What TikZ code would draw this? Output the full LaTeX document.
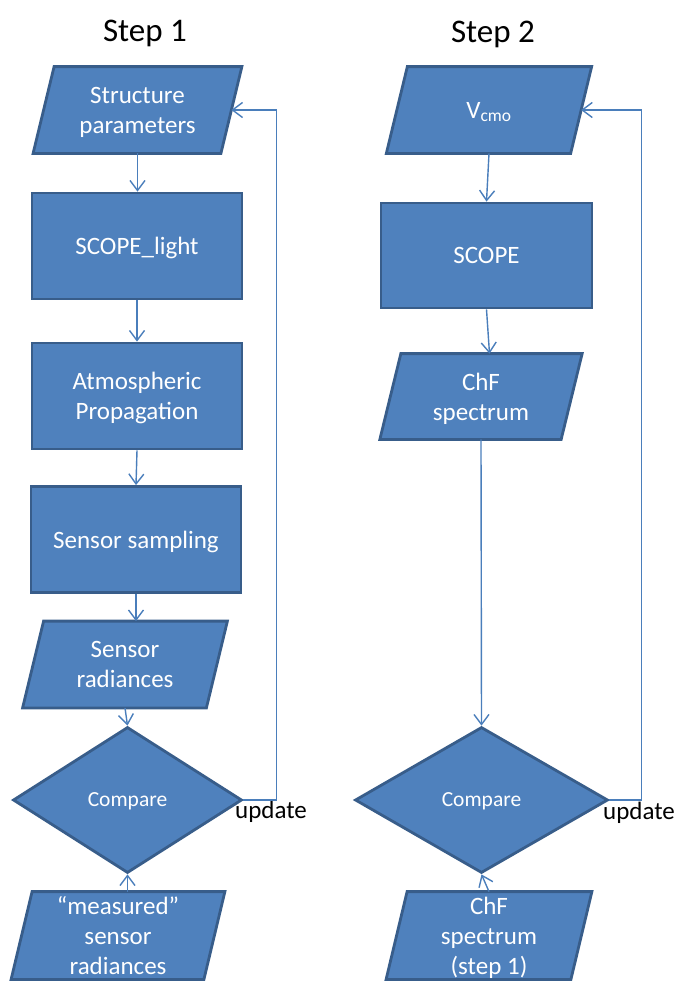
\documentclass[tikz,border=0pt]{standalone}
\usepackage{fontspec}
\setmainfont{Carlito}
\usetikzlibrary{shapes.geometric,arrows.meta,backgrounds}
\definecolor{shapefill}{HTML}{4F81BD}
\definecolor{shapeedge}{HTML}{385D8A}
\definecolor{linkblue}{HTML}{4A7EBB}
\newcommand{\boxtextfont}{\fontsize{25bp}{30bp}\selectfont}
\newcommand{\decisionfont}{\fontsize{21.5bp}{26bp}\selectfont}
\newcommand{\titlefont}{\fontsize{33bp}{40bp}\selectfont}

\begin{document}
\begin{tikzpicture}[x=1bp, y=-1bp,
  shapebase/.style={fill=shapefill, draw=shapeedge, line width=2.8bp,
    text=white, font=\boxtextfont, align=center, inner sep=0pt, text depth=0pt},
  procbox/.style={shapebase, rectangle, minimum width=210bp, minimum height=106bp},
  iobox/.style={text=white, font=\boxtextfont, align=center, inner sep=0pt,
    text depth=0pt, outer sep=1.4bp, minimum height=84bp},
  ioframe/.style={fill=shapefill, draw=shapeedge, line width=2.8bp},
  decision/.style={shapebase, diamond, font=\decisionfont},
  flowarrow/.style={draw=linkblue, line width=1.4bp,
    -{Straight Barb[length=10bp,width=15bp]}},
  steptitle/.style={font=\titlefont, anchor=base},
  updatetag/.style={font=\boxtextfont, anchor=base west, inner sep=0pt}
]
\useasboundingbox (0,0) rectangle (677,981);

% column titles
\node[steptitle] (t1) at (145,41) {Step 1};
\node[steptitle] (t2) at (493,42) {Step 2};

% Step 1 chain
\node[iobox, minimum width=185bp] (sp) at (137.5,110) {Structure\\parameters};
\node[procbox] (sl) at (137,246) {SCOPE\_light};
\node[procbox] (ap) at (137,396) {Atmospheric\\Propagation};
\node[procbox] (ss) at (136,539.5) {Sensor sampling};
\node[iobox, minimum width=181bp] (sr) at (125,664.5) {Sensor\\radiances};
\node[decision, minimum width=229bp, minimum height=146bp] (c1) at (127.5,800) {Compare};
\node[iobox, minimum width=190bp, minimum height=85bp] (ms) at (118,935.5) {“measured”\\sensor\\radiances};
\node[updatetag] (u1) at (235,818) {update};

% Step 2 chain
\node[iobox, minimum width=181.5bp] (vc) at (489,110) {V\textsubscript{cmo}};
\node[procbox, minimum width=211bp, minimum height=105bp] (sc) at (486.5,255.5) {SCOPE};
\node[iobox, minimum width=178.5bp, minimum height=83bp] (chf) at (481,396.5) {ChF\\spectrum};
\node[decision, minimum width=253bp, minimum height=146bp] (c2) at (481.5,800) {Compare};
\node[iobox, minimum width=182bp, minimum height=85bp] (chf1) at (489,935.5) {ChF\\spectrum\\(step 1)};
\node[updatetag] (u2) at (603,819) {update};

% parallelogram outlines behind the data nodes
\begin{scope}[on background layer]
  \foreach \n in {sp,sr,ms,vc,chf,chf1}
    \draw[ioframe] ([xshift=10.5bp]\n.north west) -- ([xshift=10.5bp]\n.north east)
      -- ([xshift=-10.5bp]\n.south east) -- ([xshift=-10.5bp]\n.south west) -- cycle;
\end{scope}

% Step 1 connectors
\draw[flowarrow] (sp.south) -- (sp.south |- sl.north);
\draw[flowarrow] (sl.south) -- (ap.north);
\draw[flowarrow] (ap.south) -- (ss.north);
\draw[flowarrow] (ss.south) -- (ss.south |- sr.north);
\draw[flowarrow] (sr.south) -- (c1.north);
\draw[flowarrow] (c1.south |- ms.north) -- (c1.south);
\draw[flowarrow] (c1.east) -- ++(33,0) |- (sp.east);

% Step 2 connectors
\draw[flowarrow] (vc.south) -- (sc.north);
\draw[flowarrow] (sc.south) -- ([xshift=3bp]sc.south |- chf.north);
\draw[flowarrow] (chf.south) -- (c2.north);
\draw[flowarrow] (chf1.north) -- (c2.south);
\draw[flowarrow] (c2.east) -- ++(32,0) |- (vc.east);
\end{tikzpicture}
\end{document}
